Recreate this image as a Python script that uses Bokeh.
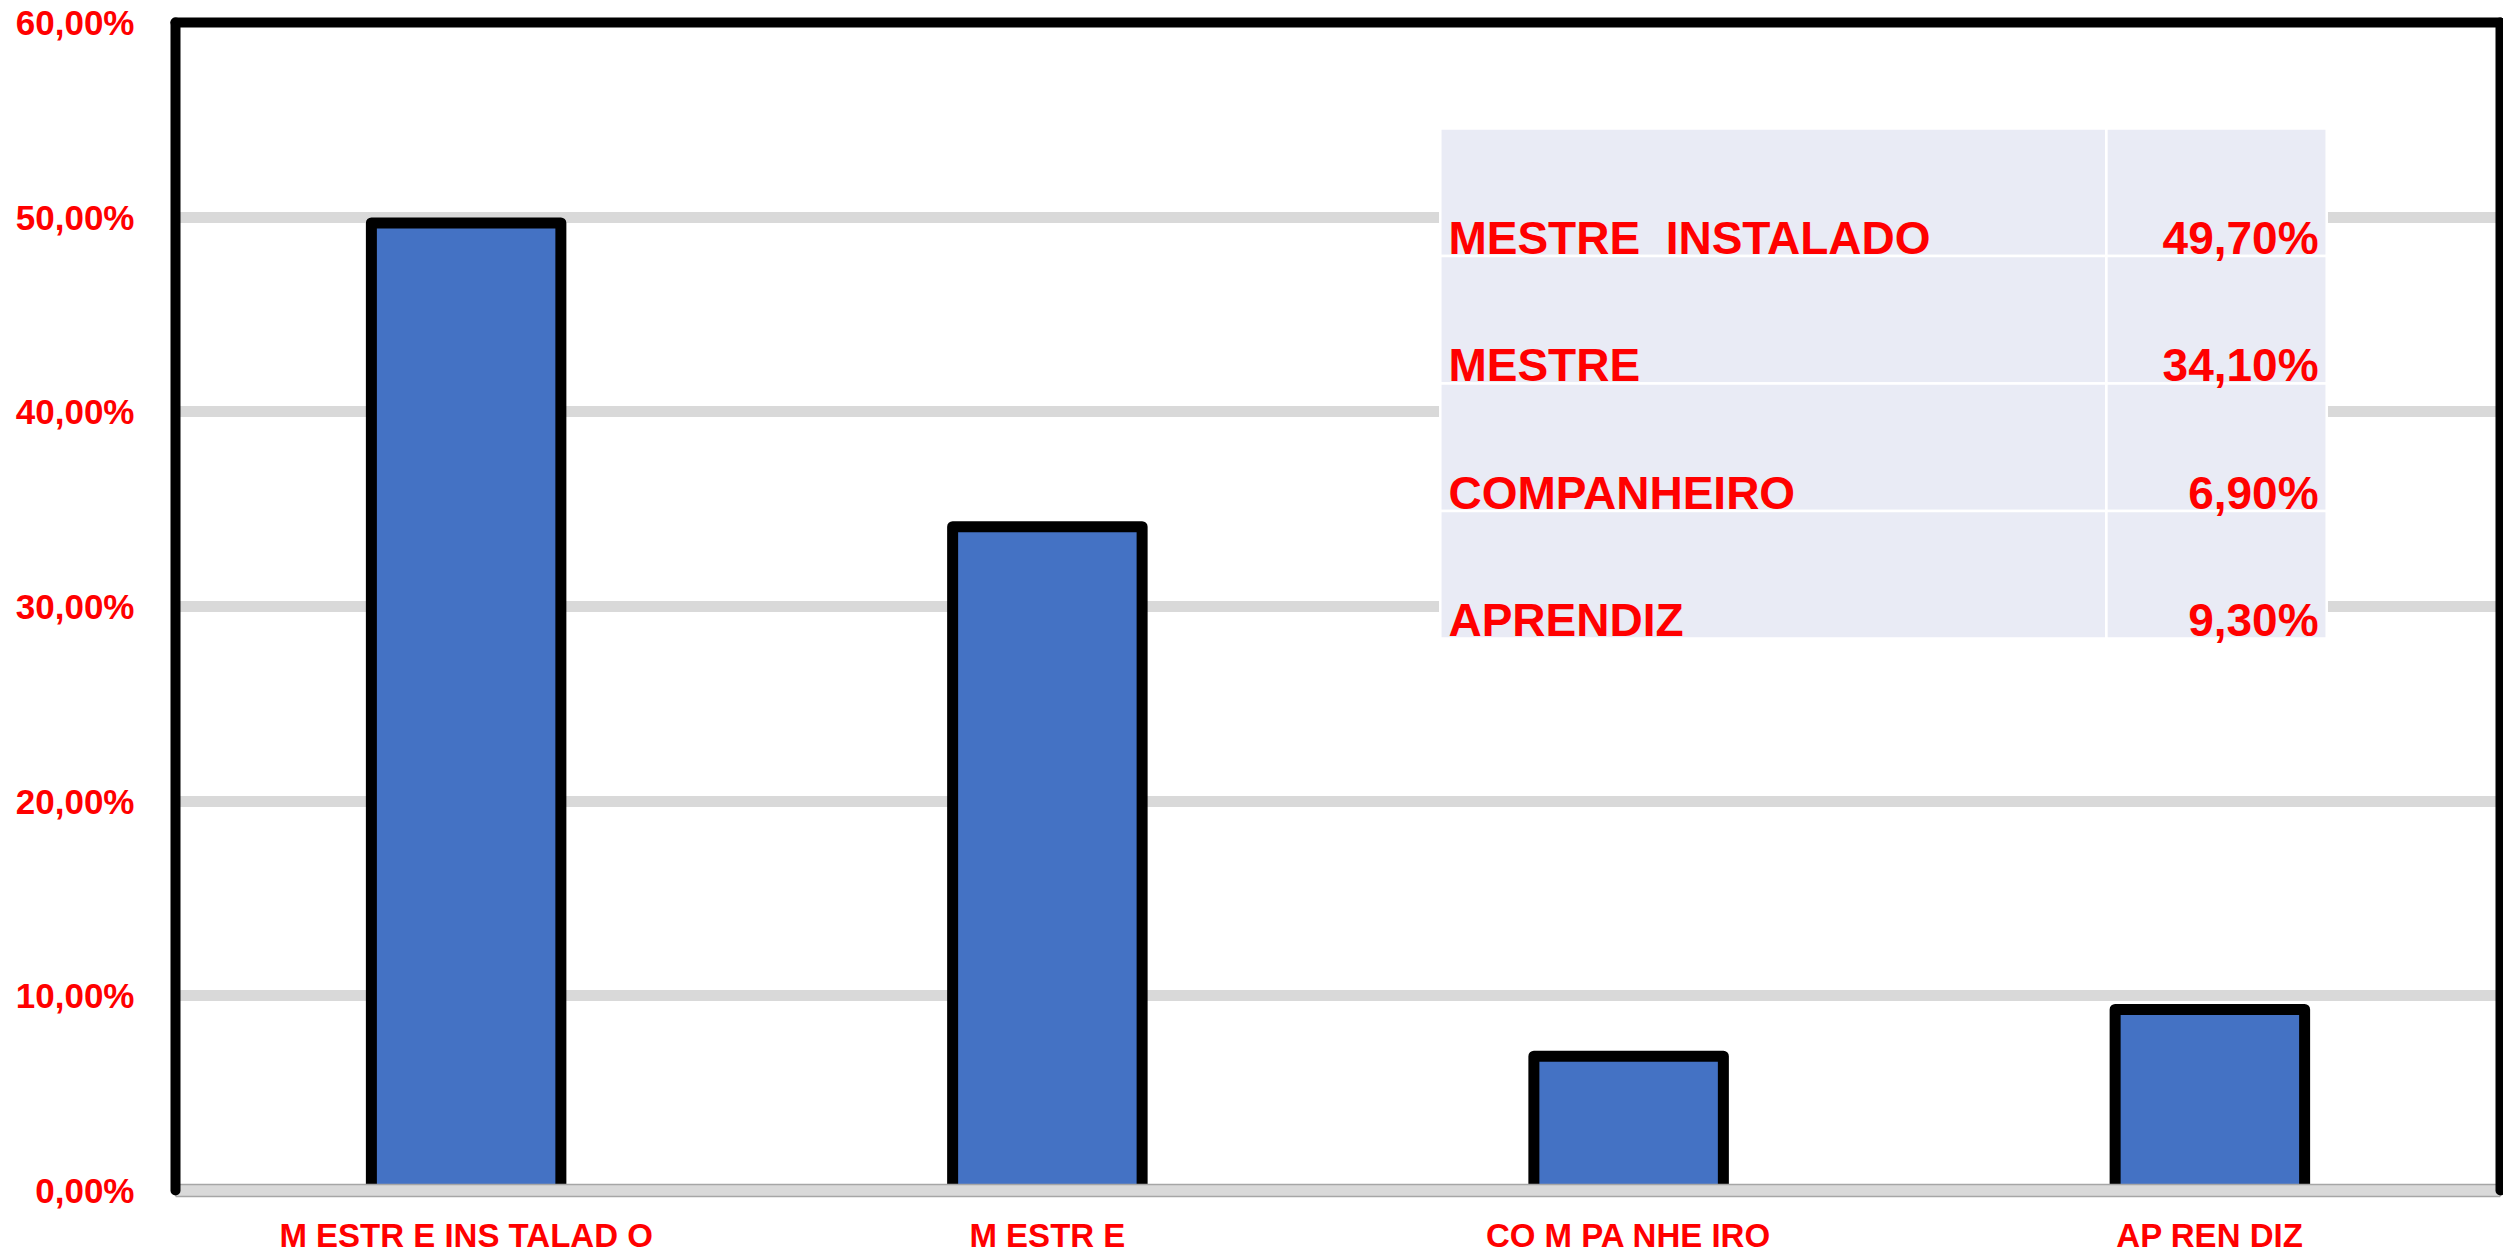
from bokeh.plotting import figure
from bokeh.models import FactorRange, Range1d, FixedTicker, LinearAxis, CategoricalAxis, ColumnDataSource
from bokeh.core.properties import value
from bokeh.embed import file_html
from bokeh.resources import INLINE

# ---- data ----
categories = ["MESTRE INSTALADO", "MESTRE", "COMPANHEIRO", "APRENDIZ"]
x_labels = ["M ESTR E INS TALAD O", "M ESTR E", "CO M PA NHE IRO", "AP REN DIZ"]
values = [49.7, 34.1, 6.9, 9.3]
table_names = ["MESTRE \u00a0INSTALADO", "MESTRE", "COMPANHEIRO", "APRENDIZ"]
table_values = ["49,70%", "34,10%", "6,90%", "9,30%"]
y_ticks = [0, 10, 20, 30, 40, 50, 60]
y_tick_labels = ["0,00%", "10,00%", "20,00%", "30,00%", "40,00%", "50,00%", "60,00%"]

RED = "#FF0000"
FONT = "Liberation Sans"
Y_BOTTOM = -3.236

p = figure(width=2503, height=1253, output_backend="svg", toolbar_location=None,
           x_range=FactorRange(*categories, range_padding=0, factor_padding=0),
           y_range=Range1d(Y_BOTTOM, 60),
           min_border_left=175, min_border_right=3, min_border_top=22, min_border_bottom=0,
           x_axis_location=None, y_axis_location=None)
p.outline_line_color = None
p.background_fill_color = "white"
p.border_fill_color = "white"
p.xgrid.visible = False

# left axis (black border + labels)
yax = LinearAxis(ticker=FixedTicker(ticks=y_ticks), bounds=(0, 60))
yax.major_label_overrides = {t: l for t, l in zip(y_ticks, y_tick_labels)}
yax.axis_line_color = "black"
yax.axis_line_width = 10
yax.axis_line_cap = "round"
yax.major_tick_line_color = None
yax.minor_tick_line_color = None
yax.major_tick_out = 0
yax.minor_tick_out = 0
yax.major_label_standoff = 41
yax.major_label_text_color = RED
yax.major_label_text_font = FONT
yax.major_label_text_font_style = "bold"
yax.major_label_text_font_size = "35px"
p.add_layout(yax, "left")

# right border
rax = LinearAxis(ticker=FixedTicker(ticks=[]), bounds=(0, 60))
rax.axis_line_color = "black"
rax.axis_line_width = 10
rax.axis_line_cap = "round"
rax.major_tick_out = 0
rax.minor_tick_out = 0
rax.major_label_standoff = 0
p.add_layout(rax, "right")

# top border
tax = CategoricalAxis()
tax.axis_line_color = "black"
tax.axis_line_width = 10
tax.axis_line_cap = "round"
tax.major_tick_line_color = None
tax.major_tick_out = 0
tax.major_label_standoff = 0
tax.major_label_text_font_size = "0px"
tax.major_label_text_color = None
p.add_layout(tax, "above")

# horizontal gridlines
p.ygrid.ticker = FixedTicker(ticks=y_ticks[1:-1])
p.ygrid.grid_line_color = "#D9D9D9"
p.ygrid.grid_line_width = 11

# bars
src = ColumnDataSource(dict(cat=categories, val=values, lab=x_labels))
p.vbar(x="cat", top="val", bottom=0, width=0.326, source=src,
       fill_color="#4472C4", line_color="black", line_width=11, line_join="round")

# floor band
n = len(categories)
p.quad(left=[0], right=[n], bottom=[-0.31], top=[0.31],
       fill_color="#D9D9D9", line_color="#A6A6A6", line_width=1.5)

# x category labels
p.text(x="cat", y=-2.286, text="lab", source=src, text_color=RED,
       text_font=value(FONT), text_font_style="bold", text_font_size="33px",
       text_align="center", text_baseline="middle")

# table overlay
T_TOP, ROW_H = 54.55, 6.55
T_LEFT, T_MID, T_RIGHT = 2.176, 3.322, 3.701
rows = len(table_names)
tops = [T_TOP - i * ROW_H for i in range(rows)]
bottoms = [t - ROW_H for t in tops]
p.quad(left=[T_LEFT] * rows + [T_MID] * rows,
       right=[T_MID] * rows + [T_RIGHT] * rows,
       top=tops + tops, bottom=bottoms + bottoms,
       fill_color="#E9EBF5", line_color="white", line_width=2.5)
tsrc = ColumnDataSource(dict(y=[b + 0.95 for b in bottoms], name=table_names, val=table_values))
p.text(x=T_LEFT + 0.014, y="y", text="name", source=tsrc, text_color=RED,
       text_font=value(FONT), text_font_style="bold", text_font_size="46px",
       text_align="left", text_baseline="middle")
p.text(x=T_RIGHT - 0.014, y="y", text="val", source=tsrc, text_color=RED,
       text_font=value(FONT), text_font_style="bold", text_font_size="46px",
       text_align="right", text_baseline="middle")

open("out.html", "w").write(file_html(p, INLINE))
